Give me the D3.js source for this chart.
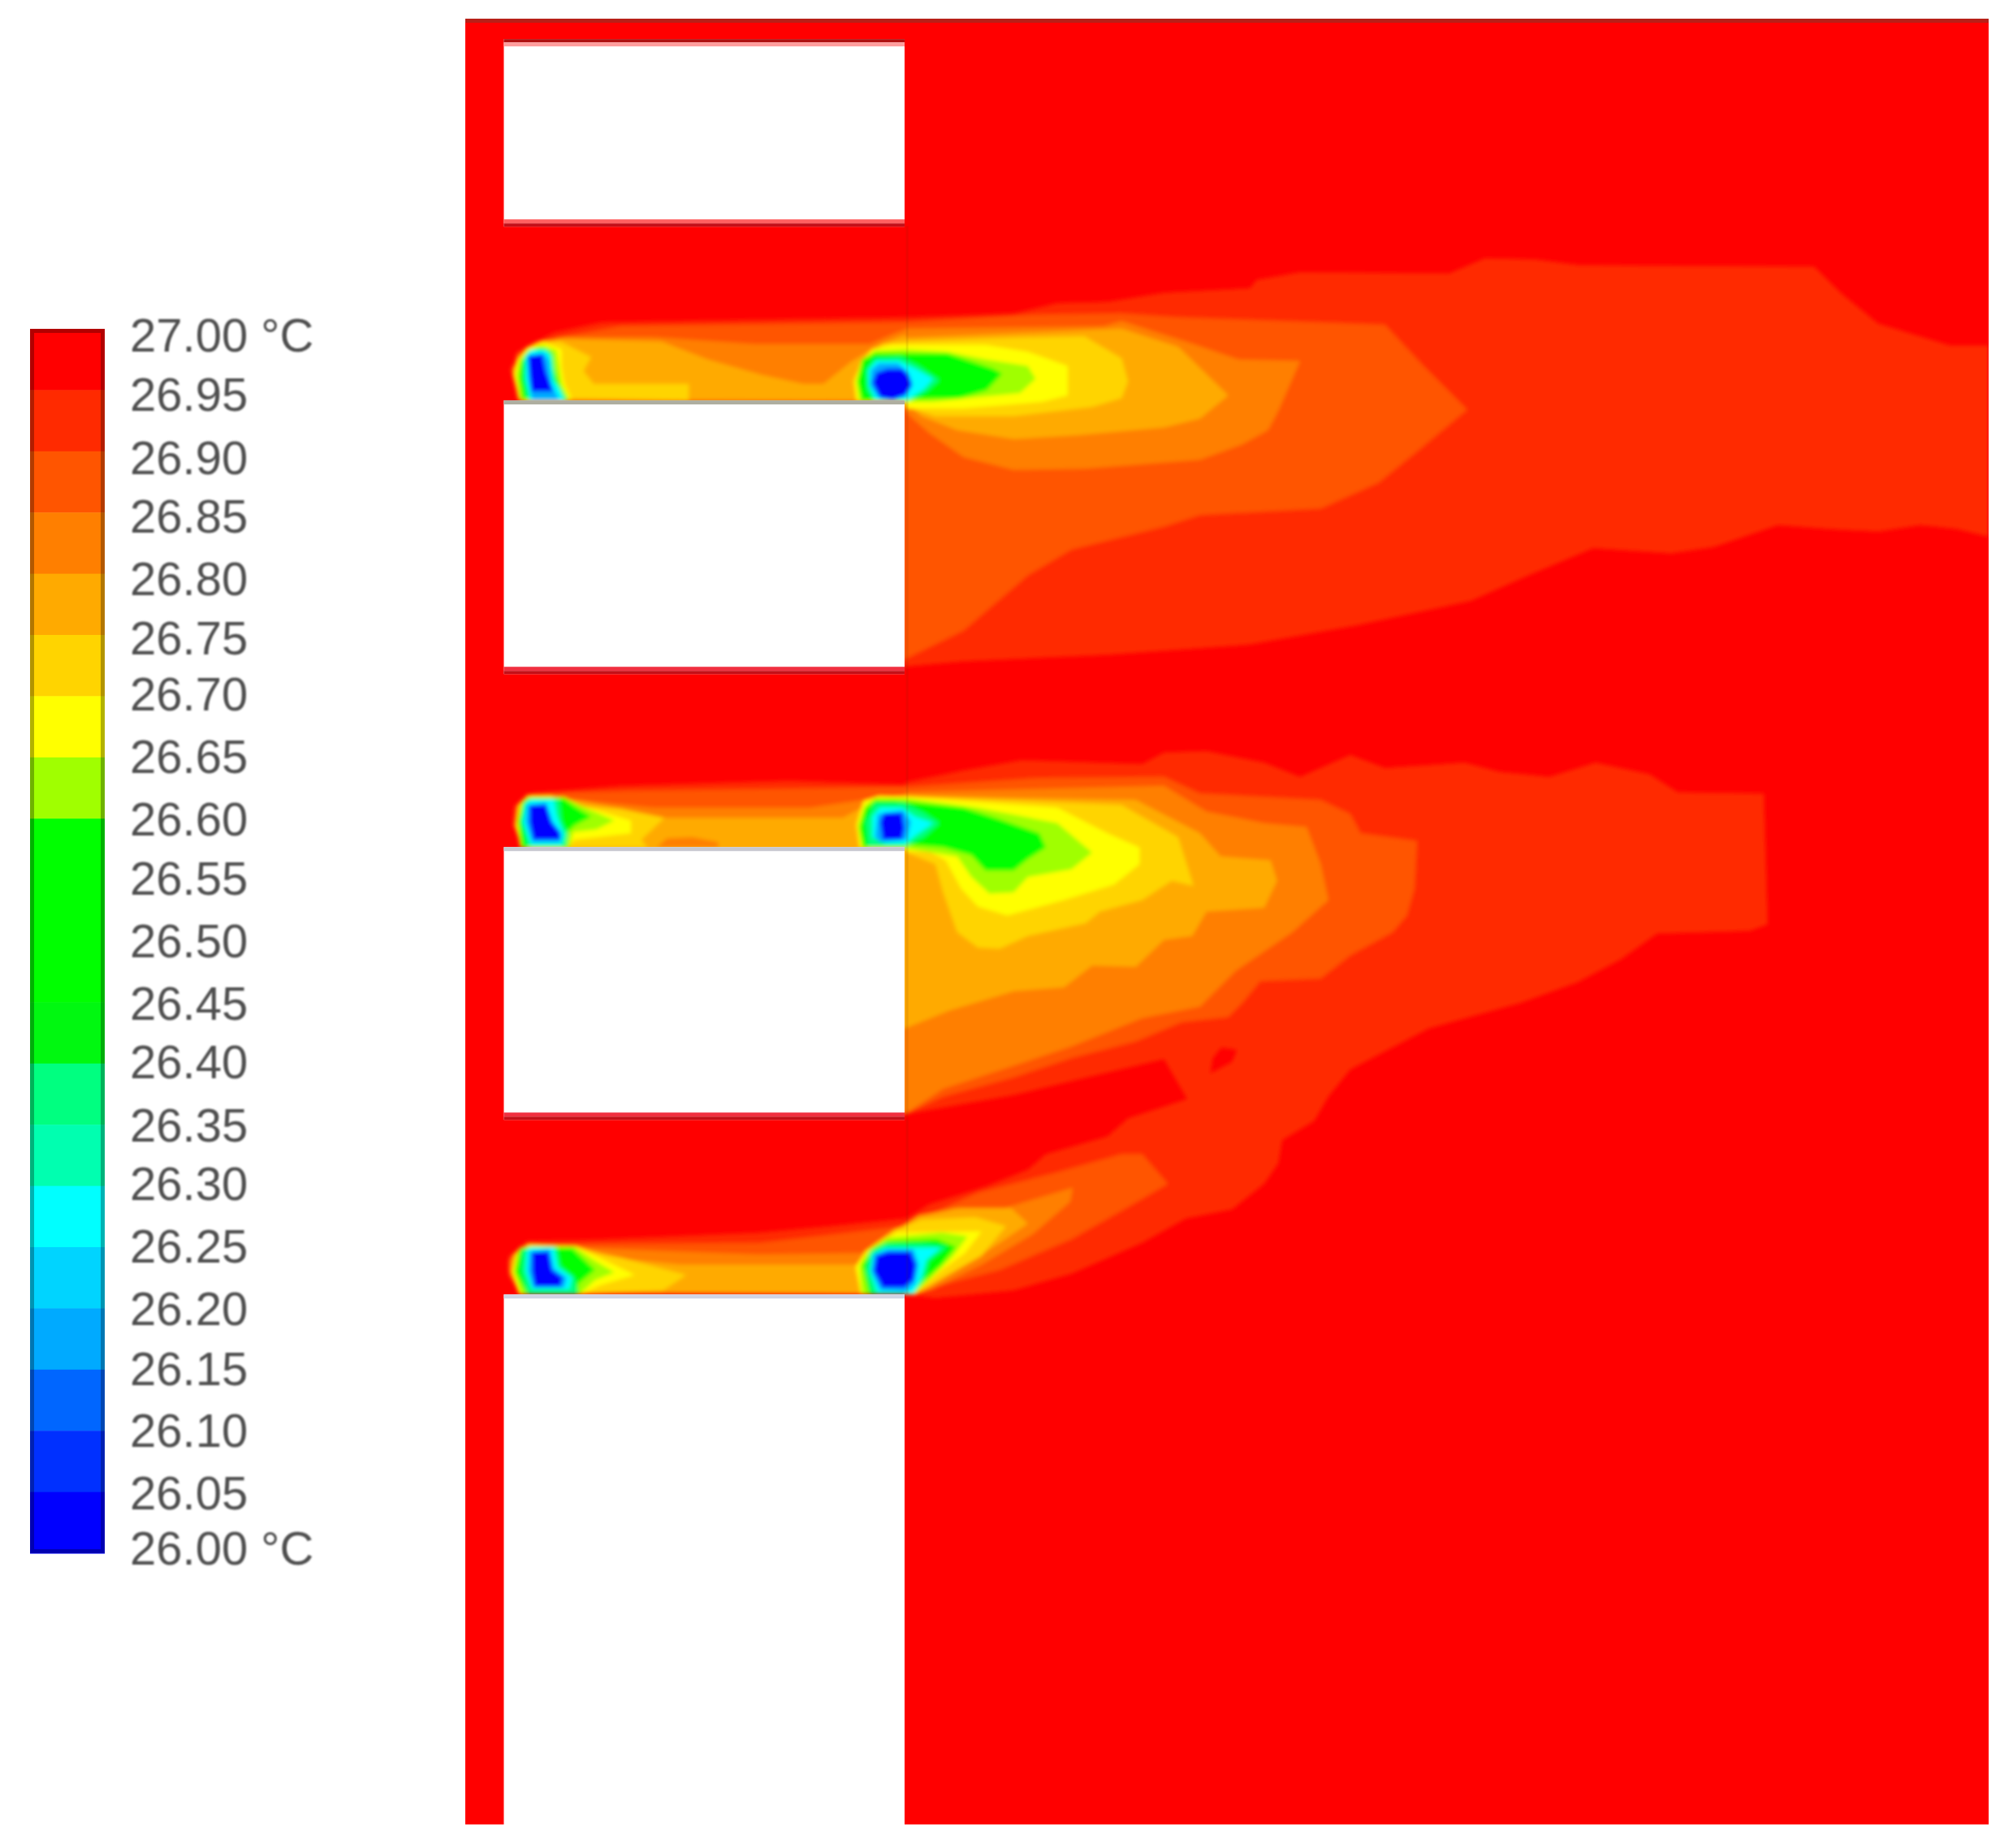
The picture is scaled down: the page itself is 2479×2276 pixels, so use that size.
<!DOCTYPE html>
<html>
  <head>
    <meta charset="utf-8">
    <style>
body { margin: 0; background: #fff; }
svg { display: block; }
.scale text { font-family: "Liberation Sans", Arial, sans-serif; font-size: 58px; fill: #505050; }
.scale path { display: none; }
    </style>
  </head>
  <body>
    <svg width="2479" height="2276"></svg>
    <script src="https://d3js.org/d3.v7.min.js"></script>
    <script>

// legend, top to bottom
var scaleTicks = [27.00, 26.95, 26.90, 26.85, 26.80, 26.75, 26.70, 26.65, 26.60, 26.55, 26.50,
                  26.45, 26.40, 26.35, 26.30, 26.25, 26.20, 26.15, 26.10, 26.05, 26.00];
var bandColors = ["#ff0000", "#ff2a00", "#ff5500", "#ff7f00", "#ffaa00", "#ffd400", "#ffff00",
                  "#a0ff00", "#00ff00", "#00ff00", "#00ff00", "#00f810", "#00ff80", "#00ffb0",
                  "#00ffff", "#00d4ff", "#00aaff", "#0066ff", "#0030ff", "#0000ff"];
// the labels in the source sit a little off their even spacing (px, same order as scaleTicks)
var labelNudge = [-2, -3, 0, -3, 0, -2, -8, -5, -3, -5, -3, 0, -3, 0, -2, 0, 2, 2, 3, 5, -2];

// solid blocks, in field units
var wallX = [393, 705];
var wallTops = [30.4, 311.8, 659.7, 1008.2];
var wallBottoms = [176.5, 525, 872.2, 1421];

// isotherm rings, [x, y] in field units
var iso2695 = [
  [[403,312],[398,287],[411,269.5],[432,259],[469,251],[705,247],[790,244],[824,236],[863,235],[907,228],[974,224.5],[979,218],[1013,212],[1129,213],[1157,201],[1196,202],[1230,206.5],[1413,207.6],[1435,229],[1463,252],[1519,269],[1549,269],[1549,418],[1524,412],[1496,409],[1463,414],[1424,412],[1385,409],[1335,426],[1302,431],[1241,427],[1191,448],[1146,468],[1057,487],[974,502],[863,510],[751,515],[707,519],[705,520]],
  [[408,660],[400,643],[401,628],[411,618],[484,612],[615,608],[705,611],[707,609],[751,600],[796,592],[890,595],[907,586],[940,585],[985,594],[1013,605],[1052,588],[1079,598],[1141,594],[1168,601],[1207,605],[1243,594],[1285,603],[1307,617],[1374,618],[1377,720],[1363,725],[1291,727],[1263,747],[1229,765],[1185,781],[1113,801],[1052,833],[1035,854],[1024,873],[999,888],[996,906],[985,922],[960,942],[924,949],[890,968],[835,992],[790,1005],[729,1011],[705,1008],[705,950],[724,938],[768,924],[801,911],[815,899],[863,885],[879,871],[925,856],[907,825],[835,842],[790,853],[705,868]],
  [[406,1008],[397,991],[397,978],[411,966.6],[459,965.6],[592,960],[646,955],[705,949],[705,1008]],
  [[951.6,816],[963.8,817.6],[960,827],[943,836],[945,824]]
];
var iso2690 = [
  [[411,312],[405.7,308],[399.4,289],[403,275],[416,267],[437,262.5],[484,254],[705,251],[807,245],[874,244],[918,247],[1079,253],[1107,283],[1143,319],[1107,349],[1074,376],[1029,396],[935,401],[907,410],[835,428],[801,448],[751,491],[704,514]],
  [[411,660],[401,643],[403,628],[416,618],[490,616],[705,613],[807,606],[907,605],[935,618],[1029,623],[1052,634],[1060,649],[1104,655],[1102,692],[1096,713],[1085,726],[1052,744],[1029,762],[982,764],[968,781],[957,792],[921,796],[885,811],[835,824],[790,839],[735,854],[705,868]],
  [[406,1008],[397,993],[399,980],[415,970],[459,969],[592,968],[705,955],[762,929],[824,913],[874,899],[890,899],[910,922],[879,940],[835,965],[779,989],[729,1002],[707,1008]]
];
var iso2685 = [
  [[407,312],[400,289],[405,278],[418,267],[442,262.5],[510,262.5],[589,268],[678,268],[694,261],[707,256],[860,254],[874,250],[930,268],[965,280],[1013,281],[996,320],[988,335],[968,346],[935,358],[846,365],[790,366],[751,356],[724,337],[707,322],[705,312]],
  [[411,660],[401,643],[403,628],[416,620],[448,623],[510,629],[631,629],[673,623],[705,619],[707,617],[907,612],[940,632],[985,641],[1018,644],[1029,673],[1035,701],[1007,726],[963,756],[935,784],[890,793],[835,815],[790,830],[735,848],[705,868]],
  [[406,1006],[397,990],[397,982],[406,972],[455,972],[592,977],[672,976],[681,970],[708,953],[743,941],[783,941],[836,925],[834,936],[805,961],[765,985],[726,1004],[710,1008]]
];
var iso2680 = [
  [[406,311],[401,287],[411,271],[437,264],[516,266],[552,280],[594,292],[626,299],[642,299],[663,282],[684,269],[705,261],[707,263],[874,256],[918,270],[957,308],[935,326],[907,333],[840,339],[790,342],[746,335],[718,324],[705,312]],
  [[413,660],[403,643],[405,628],[416,620],[453,624],[484,630],[518,637],[657,637],[670,630],[694,622],[707,620],[885,623],[935,649],[951,667],[990,670],[995,686],[985,707],[940,710],[929,729],[907,732],[885,753],[851,752],[829,769],[790,772],[740,787],[705,801]],
  [[404,1006],[398,990],[401,977],[413,969],[455,972],[480,980],[530,985],[668,985],[676,976],[700,958],[716,947],[748,941],[788,941],[801,953],[779,968],[752,985],[721,1004],[710,1008]]
];
var iso2675 = [
  [[405,310],[402,288],[410,272],[422,266],[437,266],[461,278],[455,289],[463,299],[537,299],[537,312]],
  [[667,312],[665,296],[672,282],[688,268],[707,266],[790,263],[845,262],[874,279],[879,297],[874,310],[851,317],[790,324],[729,324],[707,317],[705,312]],
  [[406,660],[403,645],[405,627],[416,620],[448,628],[484,630],[518,637],[500,654],[505,660]],
  [[670,660],[667,643],[672,627],[690,621],[707,620],[874,627],[918,652],[930,690],[913,686],[890,701],[857,710],[846,719],[801,729],[779,739],[762,738],[746,726],[735,695],[729,673],[707,664],[705,660]],
  [[405,1008],[400,990],[402,978],[414,971],[446,972],[486,980],[535,993],[517,1005],[453,1008]],
  [[671,1008],[667,986],[675,974],[697,958],[718,950],[760,948],[784,955],[765,978],[735,995],[712,1008]]
];
var iso2670 = [
  [[405,308],[401,292],[404,280],[412,271],[425,267],[438,272],[438,285],[440,298],[446,311],[410,312]],
  [[668,312],[666,298],[671,282],[680,272],[695,268.6],[768,268.6],[801,274],[832,285],[832,308],[812,313],[751,318],[707,318],[705,312]],
  [[406,660],[403,643],[406,626],[412,620],[430,620],[448,626],[492,639],[492,649],[448,654],[442,660]],
  [[670,660],[668,641],[673,624],[685,620],[707,621],[824,629],[863,649],[888,660],[888,673],[868,689],[829,701],[785,713],[762,706],[749,692],[737,670],[724,663],[707,663],[705,660]],
  [[405,1008],[400,990],[403,977],[412,970],[450,971],[495,993],[468,1001],[453,1008]],
  [[671,1008],[667,987],[675,975],[699,960],[765,959],[752,976],[734,989],[712,1008]]
];
var iso2665 = [
  [[406,311],[403,292],[406,280],[412,273],[424,269],[434,273],[436,286],[438,299],[444,311]],
  [[670,312],[668,298],[673,281],[682,273],[705,272],[738,274],[769,280],[801,285],[807,295],[795,306],[755,310],[727,313],[705,313]],
  [[407,660],[404,641],[407,625],[412,621],[440,621],[452,627],[479,639],[465,646],[447,648],[444,660]],
  [[672,660],[669,643],[674,628],[682,622],[707,622],[762,629],[824,641],[851,664],[835,677],[801,683],[790,695],[771,696],[757,683],[746,667],[707,661],[705,660]],
  [[407,1008],[401,990],[404,975],[411,971],[448,971],[464,982],[479,991],[464,997],[452,1008]],
  [[672,1008],[670,986],[678,973],[692,964],[734,960],[754,963],[743,978],[726,995],[712,1008]]
];
var iso2660 = [
  [[408,311],[405,295],[406,282],[412,273],[421,270],[430,274],[432,287],[436,299],[441,311]],
  [[672,312],[668,297],[672,280],[681,275],[738,275],[756,281],[774,287],[781,291],[769,304],[748,310],[706,311]],
  [[407,660],[404,640],[408,625],[412,622],[440,622],[448,628],[461,636],[448,643],[441,650],[442,660]],
  [[673,660],[670,645],[674,630],[682,623],[696,623],[751,629],[779,638],[810,649],[815,660],[801,669],[790,678],[768,678],[757,666],[735,660],[707,658]],
  [[411,1008],[402,991],[406,972],[446,972],[464,989],[451,1000],[451,1008]],
  [[677,1008],[672,985],[681,972],[692,967],[730,965],[745,971],[734,985],[721,997],[710,1008]]
];
var iso2640 = [
  [[412,312],[409,296],[409,278],[414,272],[427,272],[431,277],[433,297],[438,304],[442,312]],
  [[676,304],[675,288],[682,279],[702,278],[716,285],[732,296],[722,305],[708,312],[682,312]],
  [[412,660],[407,640],[409,626],[414,622],[436,622],[438,640],[443,650],[441,660]],
  [[677,660],[675,640],[682,626],[705,626],[720,633],[732,641],[720,652],[707,658],[706,660]],
  [[412,1008],[407,990],[408,974],[414,971],[434,971],[437,986],[448,995],[450,1008]],
  [[680,1008],[675,990],[678,975],[690,969],[722,969],[738,971],[724,982],[720,996],[712,1008]]
];
var iso2630 = [
  [[414,312],[410,295],[410,278],[414,273],[425,273],[429,277],[431,296],[436,303],[440,312]],
  [[677,300],[677,288],[683,281],[700,281],[713,287],[727,295],[720,303],[708,311],[682,311]],
  [[414,658],[408,640],[410,626],[414,623],[432,623],[434,635],[440,650],[438,658]],
  [[680,652],[680,636],[686,629],[703,629],[713,636],[727,641],[713,651],[706,657],[690,657]],
  [[415,1004],[410,990],[411,974],[414,972],[432,972],[435,987],[446,995],[444,1004]],
  [[678,990],[680,977],[690,972],[733,972],[722,981],[718,995],[712,1007],[684,1007]]
];
var iso2620 = [
  [[415,311],[412,295],[411,278],[424,275],[428,280],[430,298],[433,305],[436,311]],
  [[678,300],[679,288],[685,283],[700,283],[708,290],[711,298],[705,309],[684,309]],
  [[415,656],[410,640],[411,627],[426,625],[431,640],[438,650],[437,656]],
  [[682,652],[684,634],[704,631],[710,640],[707,654],[686,656]],
  [[416,1003],[412,990],[413,975],[429,973],[432,988],[442,995],[440,1003]],
  [[679,990],[681,977],[692,973],[712,973],[716,985],[713,1000],[706,1006],[686,1005]]
];
var iso2605 = [
  [[414.5,305],[413,290],[412,277],[423,275.5],[426,290],[429,298],[431,305]],
  [[680,298],[683,290],[692,287],[703,287],[708,292],[711,300],[706,308],[696,311.5],[686,310]],
  [[416,654],[413,640],[413,627],[426,627],[430,640],[437,648],[437,654]],
  [[686,640],[689,633],[703,633],[705,645],[703,654],[688,654]],
  [[417,1002],[415,990],[415,975],[428,975],[430.5,989],[439,995],[437,1002]],
  [[681,990],[683,978],[692,975],[710,975],[714,985],[712,997],[705,1003],[688,1003]]
];
// warmer spot on the floor of the middle channel
var warmSpot = [[[512,660],[520,653],[540,652],[560,656],[560,660]]];

// painted warm to cool, [temperature inside the ring, rings]
var layers = [[26.925, iso2695], [26.875, iso2690], [26.825, iso2685], [26.775, iso2680],
              [26.725, iso2675], [26.675, iso2670], [26.625, iso2665], [26.575, iso2660],
              [26.375, iso2640], [26.275, iso2630], [26.175, iso2620], [26.025, iso2605],
              [26.825, warmSpot]];

var svg = d3.select("svg");

var x = d3.scaleLinear().domain([363, 1549]).range([573, 2449]),
    y = d3.scaleLinear().domain([14.5, 1421]).range([23, 2247]);

var color = d3.scaleQuantize().domain([26, 27]).range(bandColors.slice().reverse());

var defs = svg.append("defs");
defs.append("clipPath").attr("id", "field")
  .append("rect")
  .attr("x", x(363)).attr("y", y(14.5))
  .attr("width", x(1549) - x(363)).attr("height", y(1421) - y(14.5));
defs.append("filter").attr("id", "soft")
  .attr("x", "-2%").attr("y", "-2%").attr("width", "104%").attr("height", "104%")
  .append("feGaussianBlur").attr("stdDeviation", 2.8);
defs.append("filter").attr("id", "softText")
  .append("feGaussianBlur").attr("stdDeviation", 0.9);

// contour field
var field = svg.append("g").attr("clip-path", "url(#field)");

field.append("rect")
  .attr("x", x(363)).attr("y", y(14.5))
  .attr("width", x(1549) - x(363)).attr("height", y(1421) - y(14.5))
  .attr("fill", color(26.975));

var ring = d3.line().x(function(d) { return x(d[0]); }).y(function(d) { return y(d[1]); });

field.append("g")
  .attr("filter", "url(#soft)")
  .selectAll("path")
  .data(layers)
  .enter().append("path")
  .attr("fill", function(d) { return color(d[0]); })
  .attr("fill-rule", "evenodd")
  .attr("d", function(d) {
    return d[1].map(function(r) { return ring(r) + "Z"; }).join("");
  });

// darker rim along the top of the field
field.append("rect")
  .attr("x", x(363)).attr("y", y(14.5))
  .attr("width", x(1549) - x(363)).attr("height", 5)
  .attr("fill", "#b82018");

// faint mesh seam at the block faces
field.append("line")
  .attr("x1", x(707)).attr("x2", x(707))
  .attr("y1", y(176)).attr("y2", y(1008))
  .attr("stroke", "#5a2800").attr("stroke-opacity", 0.1).attr("stroke-width", 3);

// blocks
var walls = svg.append("g").selectAll("g")
  .data(wallTops)
  .enter().append("g");

walls.append("rect")
  .attr("x", x(wallX[0])).attr("width", x(wallX[1]) - x(wallX[0]))
  .attr("y", function(d) { return y(d); })
  .attr("height", function(d, i) { return y(wallBottoms[i]) - y(d); })
  .attr("fill", "#fff");

// blurred edges of the blocks
walls.append("rect")
  .attr("x", x(wallX[0])).attr("width", x(wallX[1]) - x(wallX[0]))
  .attr("y", function(d) { return y(d); })
  .attr("height", function(d, i) { return i ? 5 : 4; })
  .attr("fill", function(d, i) { return ["#b01010", "#aeaea0", "#c8c8d0", "#d0d4e4"][i]; });

walls.filter(function(d, i) { return i == 0; }).append("rect")
  .attr("x", x(wallX[0])).attr("width", x(wallX[1]) - x(wallX[0]))
  .attr("y", function(d) { return y(d) + 4; })
  .attr("height", 5)
  .attr("fill", "#ff9c9c");

walls.filter(function(d, i) { return i < 3; }).append("rect")
  .attr("x", x(wallX[0])).attr("width", x(wallX[1]) - x(wallX[0]))
  .attr("y", function(d, i) { return y(wallBottoms[i]) - 9; })
  .attr("height", 5)
  .attr("fill", function(d, i) { return i ? "#f03040" : "#ff6060"; });

walls.filter(function(d, i) { return i < 3; }).append("rect")
  .attr("x", x(wallX[0])).attr("width", x(wallX[1]) - x(wallX[0]))
  .attr("y", function(d, i) { return y(wallBottoms[i]) - 4; })
  .attr("height", 4)
  .attr("fill", "#c41018");

// colour scale, bands by index because some colours repeat
var barY = d3.scaleBand().domain(d3.range(bandColors.length)).range([405, 1913]);

var legend = svg.append("g");

legend.selectAll("rect")
  .data(bandColors)
  .enter().append("rect")
  .attr("x", 37)
  .attr("y", function(d, i) { return barY(i); })
  .attr("width", 92)
  .attr("height", barY.bandwidth() + 0.5)
  .attr("fill", function(d) { return d; });

legend.append("rect")
  .attr("x", 39.5).attr("y", 407.5)
  .attr("width", 87).attr("height", 1503)
  .attr("fill", "none")
  .attr("stroke", "#000").attr("stroke-opacity", 0.3).attr("stroke-width", 5);

var tickY = d3.scaleLinear().domain([26, 27]).range([1906.5, 412.5]);

var axis = svg.append("g")
  .attr("class", "scale")
  .attr("transform", "translate(160,0)")
  .attr("filter", "url(#softText)")
  .call(d3.axisRight(tickY)
    .tickValues(scaleTicks)
    .tickSize(0)
    .tickPadding(0)
    .tickFormat(function(d) {
      return d3.format(".2f")(d) + (d == 27 || d == 26 ? " °C" : "");
    }));

axis.selectAll("text").attr("dy", function(d, i) { return 21.5 + labelNudge[i]; });

    </script>
  </body>
</html>
